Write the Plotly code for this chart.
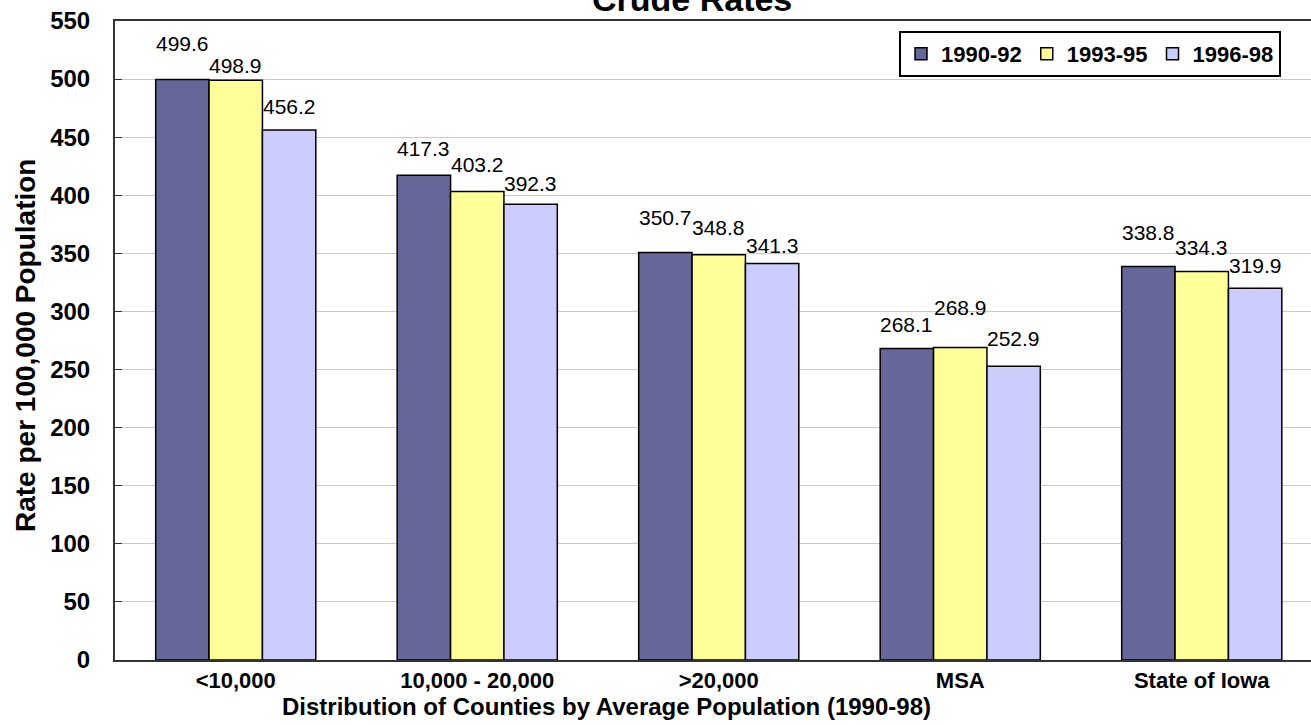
import plotly.graph_objects as go

categories = ["<10,000", "10,000 - 20,000", ">20,000", "MSA", "State of Iowa"]
series_names = ["1990-92", "1993-95", "1996-98"]
rates_1990_92 = [499.6, 417.3, 350.7, 268.1, 338.8]
rates_1993_95 = [498.9, 403.2, 348.8, 268.9, 334.3]
rates_1996_98 = [456.2, 392.3, 341.3, 252.9, 319.9]
y_ticks = list(range(0, 551, 50))
chart_title = "Crude Rates"
x_title = "Distribution of Counties by Average Population (1990-98)"
y_title = "Rate per 100,000 Population"

# label vertical offsets (px above bar top), per series, per category
label_offsets = [
    [36, 27, 35, 24, 34],
    [15, 27, 27, 40, 24],
    [23, 21, 18, 28, 23],
]

colors = ["#666699", "#FFFF99", "#CCCCFF"]
series_values = [rates_1990_92, rates_1993_95, rates_1996_98]

W, H = 1311, 725
ML, MR, MT, MB = 115, 0, 21, 65
plot_w = W - ML - MR
plot_h = H - MT - MB
cat_px = 241.5
bargap = 0.337
x_range = [-0.5, -0.5 + plot_w / cat_px]
bar_px = cat_px * (1 - bargap) / 3

FONT = "Liberation Sans, Arial"


def px_x(px):
    return (px - ML) / plot_w


def px_y(py):
    return (H - MB - py) / plot_h


fig = go.Figure()
for name, vals, col in zip(series_names, series_values, colors):
    fig.add_trace(go.Bar(
        x=categories, y=vals, name=name,
        marker=dict(color=col, line=dict(color="#000000", width=1.5)),
    ))

annotations = []
for si, vals in enumerate(series_values):
    for ci, v in enumerate(vals):
        annotations.append(dict(
            x=categories[ci], y=v, xref="x", yref="y",
            text=f"{v:.1f}", showarrow=False,
            xshift=(si - 1) * bar_px, yshift=label_offsets[si][ci],
            yanchor="middle", xanchor="center",
            font=dict(family=FONT, size=21, color="#000000"),
        ))

annotations.append(dict(
    x=px_x(692), y=px_y(20), xref="paper", yref="paper",
    text=f"<b>{chart_title}</b>", showarrow=False,
    xanchor="center", yanchor="bottom",
    font=dict(family=FONT, size=34, color="#000000"),
))
annotations.append(dict(
    x=px_x(606), y=px_y(706), xref="paper", yref="paper",
    text=f"<b>{x_title}</b>", showarrow=False,
    xanchor="center", yanchor="middle",
    font=dict(family=FONT, size=24, color="#000000"),
))
annotations.append(dict(
    x=px_x(25), y=px_y(346), xref="paper", yref="paper",
    text=f"<b>{y_title}</b>", showarrow=False, textangle=-90,
    xanchor="center", yanchor="middle",
    font=dict(family=FONT, size=28, color="#000000"),
))

fig.update_layout(
    width=W, height=H,
    margin=dict(l=ML, r=MR, t=MT, b=MB, autoexpand=False),
    paper_bgcolor="white", plot_bgcolor="white",
    barmode="group", bargap=bargap, bargroupgap=0,
    xaxis=dict(
        range=x_range, showgrid=False, automargin=False,
        showline=True, linecolor="#333333", linewidth=2, mirror=True,
        ticks="", tickfont=dict(family=FONT, size=22, color="#000000", weight="bold"),
    ),
    yaxis=dict(
        range=[0, 550], tickvals=y_ticks, showgrid=True, gridcolor="#c8c8c8", gridwidth=1,
        showline=True, linecolor="#333333", linewidth=2, automargin=False,
        ticks="inside", ticklen=7, tickcolor="#333333", ticklabelstandoff=18,
        tickfont=dict(family=FONT, size=24, color="#000000", weight="bold"),
        zeroline=False,
    ),
    legend=dict(
        orientation="h", x=px_x(899), xanchor="left",
        y=px_y(31), yanchor="top",
        bgcolor="white", bordercolor="#000000", borderwidth=2,
        font=dict(family=FONT, size=22, color="#000000", weight="bold"),
        itemwidth=30, tracegroupgap=0,
    ),
    annotations=annotations,
)

fig.write_html(
    "out.html",
    config={"displayModeBar": False},
    post_script="document.body.style.margin='0';document.body.style.overflow='hidden';",
)
